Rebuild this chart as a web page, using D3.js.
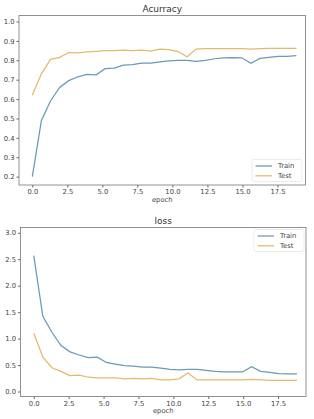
<!DOCTYPE html>
<html><head><meta charset="utf-8">
<script src="https://cdn.jsdelivr.net/npm/d3@7"></script>
<style>body{margin:0;background:#fff}svg{display:block}text{font-family:"DejaVu Sans",sans-serif}</style>
</head><body>
<script>
const epochs = d3.range(30).map(i => +(i*0.65).toFixed(2));
const accTrain = [0.20,0.49,0.59,0.66,0.695,0.715,0.727,0.725,0.757,0.76,0.775,0.778,0.786,0.786,0.792,0.797,0.80,0.80,0.795,0.80,0.808,0.812,0.814,0.813,0.785,0.81,0.815,0.82,0.82,0.824];
const accTest = [0.62,0.73,0.805,0.815,0.84,0.838,0.843,0.846,0.85,0.85,0.852,0.85,0.853,0.847,0.857,0.855,0.845,0.818,0.858,0.86,0.86,0.86,0.86,0.86,0.857,0.86,0.862,0.862,0.862,0.862];
const lossTrain = [2.57,1.42,1.12,0.87,0.75,0.69,0.64,0.65,0.55,0.52,0.49,0.48,0.46,0.46,0.44,0.42,0.41,0.42,0.42,0.40,0.38,0.37,0.37,0.37,0.47,0.38,0.36,0.34,0.335,0.335];
const lossTest = [1.10,0.65,0.45,0.38,0.30,0.31,0.27,0.26,0.26,0.26,0.24,0.25,0.24,0.25,0.22,0.22,0.24,0.35,0.22,0.22,0.22,0.22,0.22,0.22,0.23,0.22,0.21,0.21,0.21,0.21];
const xTicks = [0,2.5,5,7.5,10,12.5,15,17.5];
const accTicks = [0.2,0.3,0.4,0.5,0.6,0.7,0.8,0.9,1.0];
const lossTicks = [0,0.5,1.0,1.5,2.0,2.5,3.0];
const seriesNames = ["Train","Test"];
const colors = ["#6a9ab4","#e0bb6c"];

const svg = d3.select("body").append("svg").attr("width",314).attr("height",419);

function panel(o){
  const g = svg.append("g");
  const x = d3.scaleLinear().domain([-0.95,19.5]).range([o.left,o.right]);
  const y = d3.scaleLinear().domain(o.ydom).range([o.bottom,o.top]);
  g.append("text").attr("x",(o.left+o.right)/2).attr("y",o.top-4).attr("text-anchor","middle")
    .attr("font-size",9).attr("fill","#333").text(o.title);
  const xa = g.append("g").attr("transform",`translate(0,${o.bottom})`)
    .call(d3.axisBottom(x).tickValues(xTicks).tickFormat(d3.format(".1f")).tickSize(2.5).tickPadding(2));
  const ya = g.append("g").attr("transform",`translate(${o.left},0)`)
    .call(d3.axisLeft(y).tickValues(o.yticks).tickFormat(d3.format(".1f")).tickSize(2.5).tickPadding(2));
  [xa,ya].forEach(a=>{a.select(".domain").remove();a.selectAll("line").attr("stroke","#666");a.selectAll("text").attr("font-size",6.8).attr("fill","#444");});
  g.append("rect").attr("x",o.left).attr("y",o.top).attr("width",o.right-o.left).attr("height",o.bottom-o.top)
    .attr("fill","none").attr("stroke","#777").attr("stroke-width",0.8);
  g.append("text").attr("x",(o.left+o.right)/2).attr("y",o.bottom+16.5).attr("text-anchor","middle")
    .attr("font-size",6.8).attr("fill","#444").text("epoch");
  const line = d3.line().x((d,i)=>x(epochs[i])).y(d=>y(d));
  o.series.forEach((s,k)=>{
    g.append("path").datum(s).attr("d",line).attr("fill","none").attr("stroke",colors[k]).attr("stroke-width",1.25);
  });
  const L = o.legend;
  g.append("rect").attr("x",L.x).attr("y",L.y).attr("width",50).attr("height",22).attr("rx",2)
    .attr("fill","#fff").attr("stroke","#ddd").attr("stroke-width",0.6);
  seriesNames.forEach((n,k)=>{
    const yy = L.y+6.5+k*9.8;
    g.append("line").attr("x1",L.x+3.5).attr("x2",L.x+20).attr("y1",yy).attr("y2",yy).attr("stroke",colors[k]).attr("stroke-width",1.25);
    g.append("text").attr("x",L.x+26).attr("y",yy+2.3).attr("font-size",6.8).attr("fill","#444").text(n);
  });
}
panel({title:"Acurracy",left:19,right:305.5,top:15.5,bottom:185,ydom:[0.157,1.031],yticks:accTicks,series:[accTrain,accTest],legend:{x:252,y:159.5}});
panel({title:"loss",left:20.5,right:306,top:227.5,bottom:396.5,ydom:[-0.094,3.10],yticks:lossTicks,series:[lossTrain,lossTest],legend:{x:254,y:229.5}});
</script>
</body></html>
